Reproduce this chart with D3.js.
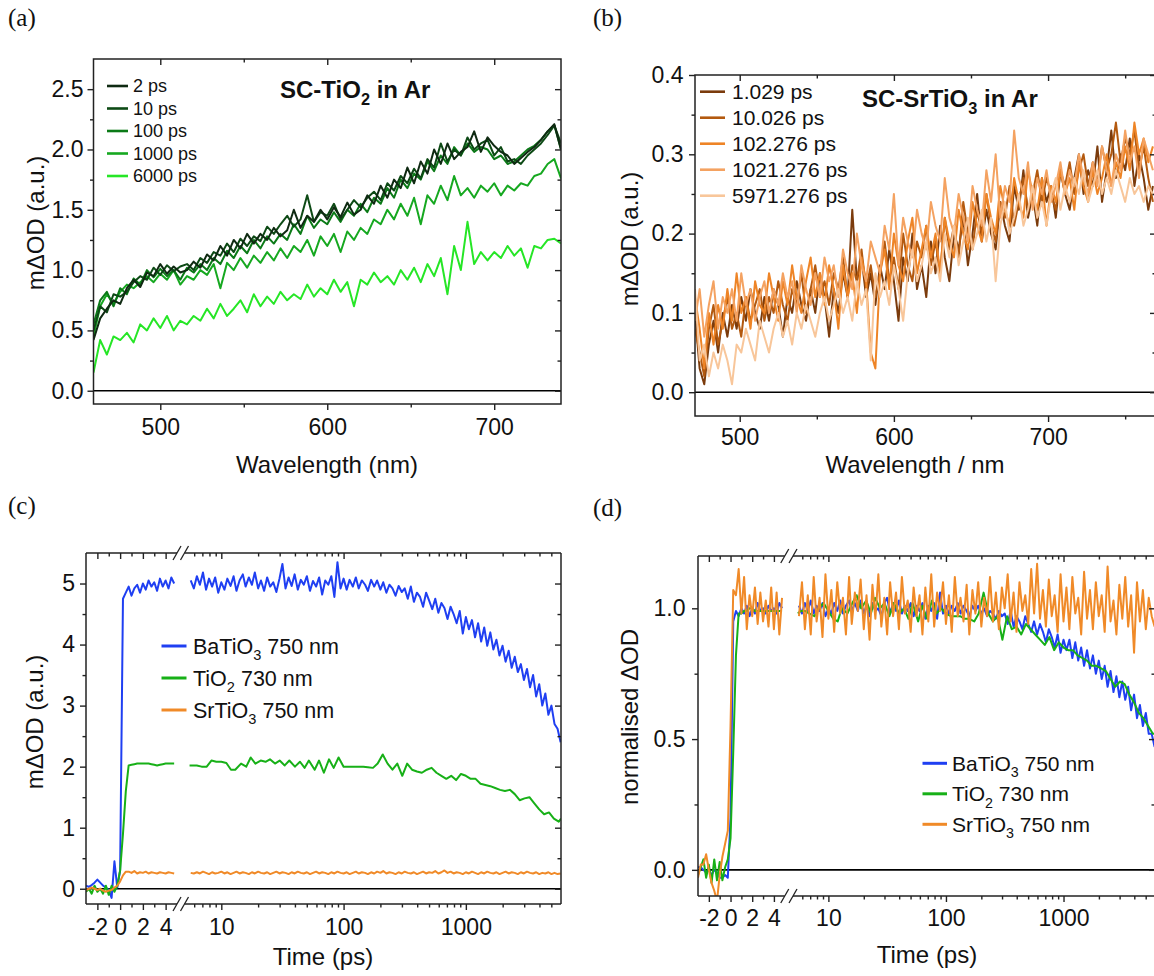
<!DOCTYPE html>
<html>
<head>
<meta charset="utf-8">
<script src="https://cdn.jsdelivr.net/npm/d3@7"></script>
<style>
  body { margin: 0; background: #fff; }
  svg { display: block; background: #fff; }
</style>
</head>
<body>
<svg id="chart" width="1154" height="976"></svg>
<script>
/* ---------- Panel (a): SC-TiO2 spectra, mΔOD vs wavelength ---------- */
const wavelengthsA = d3.range(460, 741, 4);
const labelsA = ['2 ps', '10 ps', '100 ps', '1000 ps', '6000 ps'];
const colorsA = ['#0f2a12', '#0d4a15', '#0b7a17', '#16a820', '#26e626'];
const tio2At2ps = [0.42,0.6,0.68,0.75,0.72,0.85,0.92,0.86,0.98,0.95,1.05,0.97,1.03,0.98,1.0,1.07,1.02,1.13,1.08,1.2,
  1.12,1.25,1.18,1.3,1.22,1.3,1.25,1.35,1.28,1.33,1.5,1.35,1.45,1.4,1.5,1.42,1.52,1.44,1.56,1.46,
  1.5,1.62,1.55,1.7,1.6,1.75,1.68,1.85,1.72,1.9,1.8,2.0,1.88,2.05,1.92,1.98,2.02,2.15,1.98,2.1,
  2.03,1.98,1.95,1.88,1.93,1.98,2.02,2.08,2.15,2.21,2.0];
const tio2At10ps = [0.5,0.7,0.65,0.8,0.78,0.82,0.9,0.95,0.92,1.02,0.96,1.04,0.99,1.03,1.05,1.0,1.1,1.06,1.15,1.12,
  1.22,1.15,1.26,1.2,1.28,1.24,1.36,1.3,1.38,1.45,1.36,1.42,1.62,1.4,1.48,1.45,1.55,1.42,1.5,1.58,
  1.52,1.6,1.65,1.58,1.72,1.66,1.78,1.72,1.84,1.76,1.92,1.85,2.05,1.9,2.0,1.95,2.1,2.0,2.05,2.08,
  1.95,2.02,1.9,1.92,1.88,1.95,2.0,2.05,2.12,2.2,2.05];
const tio2At100ps = [0.55,0.75,0.82,0.7,0.85,0.8,0.93,0.88,1.0,0.94,1.01,0.95,1.0,0.92,1.02,0.98,1.05,1.0,1.1,1.05,
  1.16,1.1,1.2,1.14,1.25,1.18,1.28,1.22,1.3,1.25,1.38,1.3,1.45,1.35,1.42,1.38,1.48,1.4,1.5,1.45,
  1.55,1.48,1.6,1.55,1.68,1.6,1.75,1.68,1.8,1.75,1.9,1.82,1.95,1.88,2.02,1.95,2.05,1.98,2.02,2.0,
  1.92,1.95,1.88,1.9,1.95,2.0,2.03,2.08,2.15,2.2,2.0];
const tio2At1000ps = [0.45,0.7,0.8,0.72,0.82,0.88,0.85,0.9,0.95,0.9,0.97,0.92,1.0,0.88,0.95,0.92,1.0,0.96,1.05,0.85,
  1.06,1.0,1.1,1.02,1.12,1.06,1.15,1.08,1.18,1.1,1.2,1.15,1.25,1.12,1.28,1.2,1.3,1.15,1.32,1.25,
  1.35,1.3,1.42,1.38,1.5,1.42,1.55,1.45,1.6,1.38,1.62,1.55,1.7,1.58,1.78,1.62,1.68,1.6,1.7,1.65,
  1.72,1.62,1.7,1.66,1.72,1.7,1.78,1.8,1.88,1.92,1.76];
const tio2At6000ps = [0.15,0.42,0.3,0.45,0.42,0.48,0.4,0.55,0.5,0.6,0.52,0.62,0.5,0.58,0.55,0.62,0.58,0.68,0.6,0.72,
  0.62,0.68,0.75,0.65,0.8,0.7,0.78,0.72,0.82,0.75,0.8,0.76,0.88,0.78,0.85,0.8,0.92,0.82,0.9,0.7,
  0.92,0.88,0.98,0.9,0.95,0.88,1.0,0.92,1.02,0.9,1.05,0.95,1.1,0.8,1.2,1.0,1.4,1.05,1.15,1.08,
  1.15,1.1,1.2,1.12,1.18,1.02,1.2,1.18,1.25,1.26,1.22];

/* ---------- Panel (b): SC-SrTiO3 spectra ---------- */
const wavelengthsB = d3.range(471, 769, 3);
const labelsB = ['1.029 ps', '10.026 ps', '102.276 ps', '1021.276 ps', '5971.276 ps'];
const colorsB = ['#7b3b0c', '#b3590f', '#ee8426', '#f4a261', '#f8c69a'];
const srAt1ps = [0.1,0.03,0.01,0.06,0.09,0.05,0.1,0.07,0.11,0.08,
  0.12,0.09,0.13,0.1,0.08,0.12,0.09,0.13,0.11,0.07,
  0.12,0.1,0.14,0.11,0.09,0.13,0.1,0.15,0.12,0.07,
  0.13,0.1,0.15,0.12,0.23,0.14,0.17,0.12,0.15,0.11,
  0.16,0.13,0.18,0.14,0.09,0.17,0.14,0.2,0.13,0.16,
  0.12,0.19,0.15,0.21,0.17,0.14,0.2,0.18,0.22,0.16,
  0.2,0.25,0.19,0.23,0.2,0.18,0.24,0.21,0.19,0.26,
  0.23,0.28,0.22,0.25,0.21,0.27,0.24,0.26,0.22,0.28,
  0.25,0.23,0.27,0.3,0.25,0.28,0.26,0.31,0.24,0.28,
  0.33,0.27,0.3,0.28,0.32,0.26,0.3,0.27,0.23,0.26];
const srAt10ps = [0.08,0.05,0.02,0.08,0.11,0.06,0.09,0.12,0.08,0.1,
  0.07,0.12,0.09,0.11,0.13,0.09,0.12,0.1,0.14,0.11,
  0.09,0.13,0.11,0.15,0.1,0.13,0.16,0.12,0.14,0.11,
  0.15,0.13,0.17,0.12,0.16,0.14,0.18,0.13,0.16,0.12,
  0.15,0.19,0.14,0.17,0.13,0.2,0.16,0.14,0.19,0.17,
  0.21,0.16,0.19,0.15,0.22,0.18,0.21,0.17,0.24,0.2,
  0.18,0.23,0.2,0.25,0.21,0.19,0.24,0.22,0.26,0.21,
  0.24,0.27,0.23,0.25,0.28,0.24,0.27,0.25,0.23,0.28,
  0.26,0.29,0.25,0.28,0.3,0.26,0.29,0.27,0.31,0.28,
  0.3,0.34,0.29,0.32,0.3,0.33,0.28,0.31,0.27,0.24];
const srAt100ps = [0.12,0.08,0.03,0.1,0.06,0.11,0.08,0.13,0.09,0.15,
  0.1,0.12,0.08,0.14,0.11,0.1,0.15,0.12,0.09,0.14,
  0.11,0.16,0.12,0.1,0.14,0.17,0.12,0.15,0.11,0.16,
  0.13,0.08,0.16,0.12,0.15,0.1,0.17,0.14,0.05,0.03,
  0.15,0.18,0.13,0.2,0.16,0.14,0.19,0.22,0.15,0.18,
  0.21,0.17,0.2,0.15,0.22,0.19,0.17,0.23,0.2,0.18,
  0.24,0.21,0.19,0.25,0.22,0.2,0.26,0.23,0.21,0.27,
  0.24,0.22,0.28,0.25,0.23,0.27,0.21,0.26,0.24,0.28,
  0.25,0.27,0.23,0.29,0.26,0.24,0.28,0.25,0.27,0.3,
  0.26,0.29,0.27,0.31,0.28,0.34,0.3,0.32,0.29,0.31];
const srAt1000ps = [0.09,0.13,0.07,0.11,0.14,0.08,0.12,0.1,0.13,0.09,
  0.15,0.11,0.13,0.09,0.12,0.14,0.1,0.13,0.11,0.15,
  0.12,0.14,0.1,0.16,0.13,0.11,0.15,0.12,0.17,0.14,
  0.16,0.12,0.18,0.15,0.13,0.2,0.16,0.14,0.19,0.17,
  0.15,0.21,0.18,0.25,0.16,0.22,0.19,0.17,0.23,0.2,
  0.18,0.24,0.21,0.19,0.27,0.22,0.2,0.25,0.22,0.19,
  0.26,0.23,0.21,0.28,0.24,0.3,0.22,0.26,0.24,0.33,
  0.27,0.25,0.29,0.23,0.27,0.25,0.28,0.24,0.26,0.29,
  0.25,0.28,0.26,0.3,0.27,0.25,0.29,0.26,0.31,0.28,
  0.26,0.3,0.28,0.33,0.29,0.31,0.27,0.32,0.3,0.28];
const srAt6000ps = [0.13,0.04,0.06,0.02,0.05,0.03,0.06,0.04,0.01,0.06,
  0.05,0.08,0.06,0.04,0.09,0.07,0.05,0.08,0.1,0.07,
  0.09,0.06,0.1,0.08,0.11,0.09,0.07,0.1,0.12,0.09,
  0.11,0.13,0.1,0.12,0.09,0.14,0.11,0.13,0.04,0.15,
  0.12,0.14,0.11,0.16,0.13,0.09,0.15,0.18,0.14,0.16,
  0.19,0.15,0.17,0.14,0.2,0.17,0.21,0.16,0.19,0.22,
  0.18,0.2,0.23,0.19,0.22,0.14,0.21,0.24,0.2,0.22,
  0.25,0.21,0.23,0.26,0.22,0.24,0.21,0.25,0.27,0.23,
  0.26,0.24,0.27,0.25,0.28,0.24,0.26,0.28,0.25,0.27,
  0.25,0.28,0.26,0.24,0.27,0.25,0.26,0.24,0.26,0.25];

/* ---------- Panels (c) and (d): kinetics on a broken time axis ---------- */
const timeLin = [-3,-2.75,-2.5,-2.25,-2,-1.75,-1.5,-1.25,-1,-0.75,-0.5,-0.25,0,0.25,0.5,0.75,
  1,1.25,1.5,1.75,2,2.25,2.5,2.75,3,3.25,3.5,3.75,4,4.25,4.5,4.75];
/* coarse log grid (TiO2 traces) */
const timeLog = [5.5,5.8,6.3,6.9,7.6,8.3,9.1,10,11,12,
  13,14.5,16,17.4,19,21,23,25,27.5,30,
  33,36,40,44,48,52,58,63,69,76,
  83,91,100,110,120,132,145,158,174,190,
  209,229,251,275,302,331,363,398,437,479,
  525,575,631,692,759,832,912,1000,1096,1202,
  1318,1445,1585,1738,1905,2089,2291,2512,2754,3020,
  3311,3631,3981,4365,4786,5248,5754,6000];
/* fine log grid (BaTiO3 and SrTiO3 traces) */
const timeLogFine = [5.62,5.96,6.31,6.68,7.08,7.5,7.94,8.41,8.91,9.44,
  10,10.6,11.2,11.9,12.6,13.3,14.1,15,15.8,16.8,
  17.8,18.8,20,21.1,22.4,23.7,25.1,26.6,28.2,29.9,
  31.6,33.5,35.5,37.6,39.8,42.2,44.7,47.3,50.1,53.1,
  56.2,59.6,63.1,66.8,70.8,75,79.4,84.1,89.1,94.4,
  100,106,112,119,126,133,141,150,158,168,
  178,188,200,211,224,237,251,266,282,299,
  316,335,355,376,398,422,447,473,501,531,
  562,596,631,668,708,750,794,841,891,944,
  1000,1059,1122,1189,1259,1334,1413,1496,1585,1679,
  1778,1884,1995,2113,2239,2371,2512,2661,2818,2985,
  3162,3350,3548,3758,3981,4217,4467,4732,5012,5309,
  5623,5957];
const kineticLabels = ['BaTiO_3 750 nm', 'TiO_2 730 nm', 'SrTiO_3 750 nm'];
const kineticColors = ['#1f3ff2', '#17b017', '#f08a28'];

const baTiO3Lin = [0.05,0.03,0.06,0.1,0.15,0.1,0.05,0.02,-0.02,-0.15,0.45,0.02,0.3,4.75,4.85,4.95,
  4.8,4.92,4.98,4.85,5.0,4.9,5.05,4.95,5.02,4.88,5.08,4.95,5.05,4.92,5.1,5.0];
const baTiO3Log = [5.05,4.92,5.12,4.98,5.18,4.9,5.08,4.95,5.1,4.85,
  5.02,4.9,5.08,4.96,5.12,4.88,5.05,5.15,4.95,5.1,
  4.98,5.18,4.92,5.05,4.88,5.1,4.95,5.02,4.86,5.08,
  5.32,4.92,5.1,4.96,5.15,4.9,5.06,4.98,5.12,4.88,
  5.04,4.95,5.1,4.82,5.05,4.98,5.12,4.78,5.35,4.92,
  5.08,4.9,5.06,4.95,5.1,4.92,5.05,4.98,4.88,5.06,
  4.95,5.05,4.9,5.02,4.85,4.98,4.92,4.8,4.96,4.86,
  4.92,4.75,4.95,4.7,4.85,4.78,4.62,4.85,4.72,4.58,
  4.75,4.52,4.68,4.6,4.42,4.62,4.5,4.35,4.55,4.18,
  4.45,4.25,4.4,4.12,4.35,4.05,4.28,3.98,4.2,3.92,
  4.08,3.82,3.98,3.72,3.9,3.62,3.8,3.55,3.68,3.42,
  3.6,3.3,3.5,3.15,3.35,3.0,3.2,2.85,3.0,2.7,
  2.62,2.4];
const tiO2Lin = [-0.05,0.0,-0.08,0.05,-0.05,0.0,-0.08,0.05,-0.1,0.05,-0.05,0.05,0.3,0.9,1.6,2.02,
  2.03,2.04,2.05,2.05,2.05,2.05,2.05,2.04,2.03,2.02,2.03,2.04,2.05,2.05,2.05,2.05];
const tiO2Log = [2.02,2.02,2.02,2.0,2.0,2.1,2.08,2.08,2.06,1.95,
  1.95,2.05,2.0,2.15,2.05,2.1,2.08,2.12,2.05,2.1,
  2.02,2.1,2.0,2.08,1.98,2.1,1.95,2.1,1.9,2.12,
  1.98,2.15,2.0,2.0,2.0,2.0,2.0,1.99,1.98,2.05,
  2.2,2.05,1.95,2.05,1.85,2.05,1.95,1.92,1.9,1.95,
  1.98,1.9,1.85,1.8,1.85,1.78,1.88,1.85,1.8,1.8,
  1.72,1.7,1.68,1.65,1.62,1.6,1.62,1.55,1.45,1.48,
  1.5,1.4,1.3,1.22,1.25,1.15,1.1,1.15];
const srTiO3Lin = [-0.02,0.0,0.02,0.0,-0.02,0.0,-0.03,-0.05,-0.03,-0.02,0.02,0.05,0.12,0.22,0.28,0.28,
  0.26,0.29,0.25,0.27,0.26,0.28,0.25,0.27,0.26,0.25,0.27,0.26,0.25,0.27,0.26,0.25];
const srTiO3Log = [0.26,0.25,0.27,0.25,0.28,0.26,0.24,0.27,0.25,0.26,
  0.28,0.25,0.27,0.24,0.26,0.28,0.25,0.27,0.26,0.24,
  0.27,0.25,0.28,0.26,0.25,0.27,0.24,0.26,0.28,0.25,
  0.27,0.26,0.24,0.27,0.25,0.28,0.26,0.25,0.27,0.24,
  0.26,0.28,0.25,0.27,0.26,0.24,0.27,0.25,0.28,0.26,
  0.25,0.27,0.24,0.26,0.28,0.25,0.27,0.26,0.24,0.27,
  0.25,0.28,0.26,0.29,0.25,0.27,0.26,0.24,0.27,0.25,
  0.28,0.26,0.25,0.27,0.24,0.26,0.28,0.25,0.27,0.26,
  0.29,0.25,0.27,0.3,0.26,0.28,0.25,0.27,0.26,0.24,
  0.27,0.25,0.28,0.26,0.24,0.27,0.25,0.28,0.26,0.25,
  0.27,0.24,0.26,0.28,0.25,0.27,0.26,0.24,0.27,0.25,
  0.28,0.26,0.25,0.27,0.24,0.26,0.25,0.27,0.24,0.26,
  0.24,0.25];

/* normalised traces, panel (d) */
const baTiO3NormLin = [0.01,0.01,0.0,-0.01,0.0,-0.02,0.0,-0.01,-0.03,-0.03,-0.02,-0.03,0.2,0.95,0.99,0.97,
  1.0,0.98,1.01,0.97,1.0,0.98,1.02,0.99,1.0,0.98,1.01,0.99,1.0,0.98,1.02,1.0];
const baTiO3NormLog = [1.01,0.98,1.02,0.99,1.03,0.98,1.01,0.99,1.02,0.97,
  1.0,0.98,1.02,0.99,1.03,0.98,1.01,1.03,0.99,1.02,
  0.99,1.03,0.98,1.01,0.97,1.02,0.99,1.0,0.97,1.02,
  1.04,0.98,1.02,0.99,1.03,0.98,1.01,0.99,1.02,0.97,
  1.01,0.99,1.02,0.96,1.01,0.99,1.02,0.96,1.06,0.98,
  1.01,0.98,1.01,0.99,1.02,0.98,1.01,0.99,0.97,1.01,
  0.99,1.01,0.98,1.0,0.97,0.99,0.98,0.96,0.99,0.97,
  0.98,0.94,0.99,0.93,0.97,0.95,0.92,0.97,0.94,0.91,
  0.95,0.9,0.94,0.91,0.87,0.92,0.89,0.85,0.9,0.83,
  0.88,0.84,0.88,0.81,0.87,0.8,0.85,0.78,0.84,0.77,
  0.82,0.75,0.8,0.73,0.78,0.7,0.76,0.68,0.74,0.66,
  0.72,0.65,0.7,0.61,0.67,0.58,0.63,0.55,0.6,0.52,
  0.52,0.47];
const tiO2NormLin = [-0.02,0.01,0.04,-0.03,0.02,-0.05,0.04,-0.04,0.03,-0.04,0.01,0.04,0.12,0.45,0.82,0.98,
  0.98,0.99,0.99,1.0,1.0,0.99,0.99,0.99,0.99,0.99,0.99,0.99,0.99,0.99,0.99,0.99];
const tiO2NormLog = [0.98,0.99,0.99,0.98,0.97,1.0,1.02,0.99,0.96,0.95,
  1.0,0.98,1.02,1.05,1.0,1.03,0.98,1.04,1.0,1.02,
  0.97,1.02,0.98,1.0,0.96,1.02,0.95,1.01,0.96,1.03,
  0.98,1.0,0.98,0.97,0.97,0.97,0.96,0.96,0.95,0.98,
  1.06,0.98,0.95,0.97,0.88,0.97,0.92,0.93,0.9,0.94,
  0.92,0.9,0.88,0.86,0.89,0.84,0.87,0.85,0.84,0.84,
  0.82,0.81,0.8,0.78,0.78,0.77,0.76,0.73,0.7,0.72,
  0.71,0.67,0.64,0.6,0.58,0.55,0.52,0.52];
const srTiO3NormLin = [-0.03,0.02,0.02,0.06,0.0,-0.05,-0.08,-0.12,-0.02,0.05,0.1,0.15,0.55,1.07,1.05,1.15,
  0.98,1.12,0.92,1.05,0.97,1.08,0.94,1.06,0.95,1.03,0.93,1.08,0.92,1.06,0.9,1.04];
const srTiO3NormLog = [0.97,1.1,0.92,1.05,0.9,1.12,0.95,1.04,0.89,1.13,
  0.96,1.07,0.91,1.1,0.98,1.04,0.9,1.12,0.94,1.06,
  0.99,1.11,0.92,1.05,0.88,1.09,0.96,1.13,0.93,1.04,
  0.9,1.1,0.97,1.06,0.92,1.12,0.98,1.03,0.91,1.08,
  0.97,1.05,0.9,1.08,0.95,1.13,0.93,1.06,0.99,1.1,
  0.94,1.05,0.91,1.12,0.97,1.04,0.95,1.09,0.9,1.07,
  0.98,1.1,0.93,1.04,0.97,1.12,0.95,1.06,0.92,1.08,
  1.0,1.13,0.95,1.06,0.91,1.1,0.99,1.05,0.94,1.15,
  0.98,1.17,0.96,1.07,0.93,1.11,0.97,1.05,0.91,1.13,
  0.95,1.08,0.92,1.12,0.98,1.04,0.9,1.14,0.96,1.07,
  0.92,1.1,0.97,1.05,0.91,1.16,0.95,1.03,0.9,1.09,
  0.96,1.12,0.93,1.05,0.83,1.1,0.95,1.07,0.92,1.04,
  0.97,0.93];

const logMinorTicks = [6, 7, 8, 9, 20, 30, 40, 50, 60, 70, 80, 90,
  200, 300, 400, 500, 600, 700, 800, 900, 2000, 3000, 4000, 5000];

/* ---------- Drawing helpers ---------- */
const FONT = '"Liberation Sans", Arial, Helvetica, sans-serif';
const SERIF = '"Liberation Serif", "DejaVu Serif", serif';
const INK = '#222';
const TICK = 6;
const MINOR = 3.5;
const svg = d3.select('#chart');

/** Append text where "_x" marks a one-character subscript. */
function appendRich(textSel, str, size) {
  const parts = str.split(/_(\d)/);
  parts.forEach((p, i) => {
    if (!p) return;
    const sub = i % 2 === 1;
    textSel.append('tspan')
        .attr('font-size', sub ? size * 0.68 : size)
        .attr('dy', sub ? size * 0.3 : (i > 0 ? -size * 0.3 : 0))
        .text(p);
  });
  return textSel;
}

function addText(g, x, y, str, opts = {}) {
  const size = opts.size || 22;
  const t = g.append('text')
      .attr('x', x)
      .attr('y', y)
      .attr('font-family', opts.family || FONT)
      .attr('font-size', size)
      .attr('font-weight', opts.weight || 'normal')
      .attr('text-anchor', opts.anchor || 'start')
      .attr('fill', '#111');
  if (opts.rotate) {
    t.attr('x', null).attr('y', null)
        .attr('transform', `translate(${x},${y}) rotate(-90)`);
  }
  return appendRich(t, str, size);
}

function addAxis(g, axis, tx, ty, size) {
  return g.append('g')
      .attr('transform', `translate(${tx},${ty})`)
      .call(axis)
      .call(s => {
        s.select('.domain').remove();
        s.selectAll('.tick line').attr('stroke', INK).attr('stroke-width', 1.4);
        s.selectAll('.tick text')
            .attr('fill', '#111')
            .attr('font-family', FONT)
            .attr('font-size', size || 23);
      });
}

/** Ticks on all four sides: outward bottom/left, inward top/right. */
function addTickSet(g, scale, orient, major, minor, fmt, w, h, pad) {
  const horiz = orient === 'x';
  const outer = horiz ? d3.axisBottom : d3.axisLeft;
  const inner = horiz ? d3.axisTop : d3.axisRight;
  const oy = horiz ? h : 0;
  const ix = horiz ? 0 : w;
  addAxis(g, outer(scale).tickValues(major).tickSize(TICK).tickPadding(pad).tickFormat(fmt), 0, oy);
  addAxis(g, outer(scale).tickValues(minor).tickSize(MINOR).tickFormat(''), 0, oy);
  addAxis(g, inner(scale).tickValues(major).tickSize(-TICK).tickFormat(''), ix, 0);
  addAxis(g, inner(scale).tickValues(minor).tickSize(-MINOR).tickFormat(''), ix, 0);
}

function addLegend(g, items, colors, cfg) {
  items.forEach((label, i) => {
    const y = cfg.y0 + i * cfg.dy;
    g.append('line')
        .attr('x1', cfg.x0).attr('x2', cfg.x1)
        .attr('y1', y).attr('y2', y)
        .attr('stroke', colors[i])
        .attr('stroke-width', cfg.lw || 2.6);
    addText(g, cfg.tx, y + cfg.size * 0.36, label, { size: cfg.size });
  });
}

function zeroLine(g, y, w) {
  g.append('line')
      .attr('x1', 0).attr('x2', w)
      .attr('y1', y(0)).attr('y2', y(0))
      .attr('stroke', '#000')
      .attr('stroke-width', 1.6);
}

/* ---------- Spectrum panel ---------- */
function spectrumPanel(cfg) {
  const { left, top, width, height } = cfg.box;
  const x = d3.scaleLinear().domain(cfg.xDomain).range([0, width]);
  const y = d3.scaleLinear().domain(cfg.yDomain).range([height, 0]);
  const g = svg.append('g').attr('transform', `translate(${left},${top})`);

  g.append('clipPath').attr('id', 'clip-' + cfg.id)
    .append('rect').attr('width', width).attr('height', height);

  zeroLine(g, y, width);

  const line = d3.line()
      .defined((d, i) => i < cfg.wavelengths.length)
      .x((d, i) => x(cfg.wavelengths[i]))
      .y(d => y(d));
  const dataG = g.append('g').attr('clip-path', `url(#clip-${cfg.id})`);
  cfg.order.forEach(k => {
    dataG.append('path')
        .attr('d', line(cfg.series[k]))
        .attr('fill', 'none')
        .attr('stroke', cfg.colors[k])
        .attr('stroke-width', 2)
        .attr('stroke-linejoin', 'round');
  });

  g.append('rect')
      .attr('width', width).attr('height', height)
      .attr('fill', 'none').attr('stroke', INK).attr('stroke-width', 1.5);

  addTickSet(g, x, 'x', cfg.xMajor, cfg.xMinor, d3.format('d'), width, height, cfg.xPad);
  addTickSet(g, y, 'y', cfg.yMajor, cfg.yMinor, d3.format('.1f'), width, height, cfg.yPad);
  return g;
}

/* ---------- Kinetic panel with axis break ---------- */
function kineticPanel(cfg) {
  const { left, top, width, height, breakL, breakR } = cfg.box;
  const xLin = d3.scaleLinear().domain([-3, 5]).range([0, breakL]);
  const xLog = d3.scaleLog().domain([5, 6000]).range([breakR, width]);
  const y = d3.scaleLinear().domain(cfg.yDomain).range([height, 0]);
  const g = svg.append('g').attr('transform', `translate(${left},${top})`);

  g.append('clipPath').attr('id', 'clip-' + cfg.id)
    .append('rect').attr('width', width).attr('height', height);

  zeroLine(g, y, width);

  const dataG = g.append('g').attr('clip-path', `url(#clip-${cfg.id})`);
  cfg.series.forEach((s, k) => {
    const lineLin = d3.line()
        .defined((d, i) => i < timeLin.length)
        .x((d, i) => xLin(timeLin[i])).y(d => y(d));
    const lineLog = d3.line()
        .defined((d, i) => i < s.logTimes.length)
        .x((d, i) => xLog(s.logTimes[i])).y(d => y(d));
    [lineLin(s.lin), lineLog(s.log)].forEach(d => {
      dataG.append('path')
          .attr('d', d)
          .attr('fill', 'none')
          .attr('stroke', kineticColors[k])
          .attr('stroke-width', 2)
          .attr('stroke-linejoin', 'round');
    });
  });

  /* Frame with gaps at the break */
  const frame = [[0, 0, 0, height], [width, 0, width, height],
    [0, 0, breakL, 0], [breakR, 0, width, 0],
    [0, height, breakL, height], [breakR, height, width, height]];
  frame.forEach(f => {
    g.append('line')
        .attr('x1', f[0]).attr('y1', f[1]).attr('x2', f[2]).attr('y2', f[3])
        .attr('stroke', INK).attr('stroke-width', 1.5);
  });
  [0, height].forEach(yy => {
    [breakL, breakR].forEach(xx => {
      g.append('line')
          .attr('x1', xx - 4).attr('y1', yy + 7)
          .attr('x2', xx + 4).attr('y2', yy - 7)
          .attr('stroke', INK).attr('stroke-width', 1.3);
    });
  });

  const intFmt = d => String(d);
  addTickSet(g, xLin, 'x', [-2, 0, 2, 4], [-1, 1, 3], intFmt, width, height, cfg.xPad);
  addTickSet(g, xLog, 'x', [10, 100, 1000], logMinorTicks, intFmt, width, height, cfg.xPad);
  addTickSet(g, y, 'y', cfg.yMajor, cfg.yMinor, cfg.yFormat, width, height, cfg.yPad);
  return g;
}

/* ---------- Panel (a) ---------- */
spectrumPanel({
  id: 'a',
  box: { left: 93.5, top: 59, width: 467.5, height: 345 },
  xDomain: [460, 740], yDomain: [-0.11, 2.75],
  wavelengths: wavelengthsA,
  series: [tio2At2ps, tio2At10ps, tio2At100ps, tio2At1000ps, tio2At6000ps],
  colors: colorsA,
  order: [4, 3, 2, 1, 0],
  xMajor: [500, 600, 700], xMinor: [550, 650],
  yMajor: [0, 0.5, 1, 1.5, 2, 2.5], yMinor: [0.25, 0.75, 1.25, 1.75, 2.25],
  xPad: 9, yPad: 4
});
addLegend(svg, labelsA, colorsA, { x0: 107, x1: 128, tx: 133, y0: 86, dy: 22.5, size: 18, lw: 2.6 });
addText(svg, 280, 98, 'SC-TiO_2 in Ar', { size: 24, weight: 'bold' });
addText(svg, 327, 473, 'Wavelength (nm)', { size: 24, anchor: 'middle' });
addText(svg, 44, 223, 'mΔOD (a.u.)', { size: 24, anchor: 'middle', rotate: true });

/* ---------- Panel (b) ---------- */
spectrumPanel({
  id: 'b',
  box: { left: 695, top: 75, width: 461, height: 341 },
  xDomain: [471, 770], yDomain: [-0.03, 0.4],
  wavelengths: wavelengthsB,
  series: [srAt1ps, srAt10ps, srAt100ps, srAt1000ps, srAt6000ps],
  colors: colorsB,
  order: [0, 1, 2, 3, 4],
  xMajor: [500, 600, 700], xMinor: [550, 650, 750],
  yMajor: [0, 0.1, 0.2, 0.3, 0.4], yMinor: [0.05, 0.15, 0.25, 0.35],
  xPad: 7, yPad: 5.5
});
addLegend(svg, labelsB, colorsB, { x0: 700, x1: 725, tx: 732, y0: 91.7, dy: 26, size: 21, lw: 2.6 });
addText(svg, 862, 107, 'SC-SrTiO_3 in Ar', { size: 24, weight: 'bold' });
addText(svg, 915, 473, 'Wavelength / nm', { size: 24, anchor: 'middle' });
addText(svg, 638, 239, 'mΔOD (a.u.)', { size: 24, anchor: 'middle', rotate: true });

/* ---------- Panel (c) ---------- */
kineticPanel({
  id: 'c',
  box: { left: 86, top: 553, width: 475, height: 351, breakL: 91, breakR: 98.5 },
  yDomain: [-0.25, 5.5],
  series: [
    { lin: baTiO3Lin, logTimes: timeLogFine, log: baTiO3Log },
    { lin: tiO2Lin, logTimes: timeLog, log: tiO2Log },
    { lin: srTiO3Lin, logTimes: timeLogFine, log: srTiO3Log }
  ],
  yMajor: [0, 1, 2, 3, 4, 5], yMinor: [0.5, 1.5, 2.5, 3.5, 4.5],
  yFormat: d3.format('d'),
  xPad: 9, yPad: 5
});
addLegend(svg, kineticLabels, kineticColors, { x0: 161.5, x1: 186.5, tx: 193, y0: 646, dy: 32, size: 21.5, lw: 3 });
addText(svg, 323, 965, 'Time (ps)', { size: 24, anchor: 'middle' });
addText(svg, 43, 722, 'mΔOD (a.u.)', { size: 24, anchor: 'middle', rotate: true });

/* ---------- Panel (d) ---------- */
kineticPanel({
  id: 'd',
  box: { left: 698, top: 556, width: 457, height: 340, breakL: 86.75, breakR: 95 },
  yDomain: [-0.1, 1.2],
  series: [
    { lin: baTiO3NormLin, logTimes: timeLogFine, log: baTiO3NormLog },
    { lin: tiO2NormLin, logTimes: timeLog, log: tiO2NormLog },
    { lin: srTiO3NormLin, logTimes: timeLogFine, log: srTiO3NormLog }
  ],
  yMajor: [0, 0.5, 1], yMinor: [0.25, 0.75],
  yFormat: d3.format('.1f'),
  xPad: 7.5, yPad: 6.5
});
addLegend(svg, kineticLabels, kineticColors, { x0: 922.5, x1: 947, tx: 952, y0: 763.3, dy: 30.5, size: 21, lw: 3 });
addText(svg, 927, 963, 'Time (ps)', { size: 24, anchor: 'middle' });
addText(svg, 638, 717, 'normalised ΔOD', { size: 24, anchor: 'middle', rotate: true });

/* ---------- Panel letters ---------- */
[['(a)', 8, 26], ['(b)', 593, 26], ['(c)', 8, 514], ['(d)', 593, 516]].forEach(p => {
  addText(svg, p[1], p[2], p[0], { size: 25, family: SERIF });
});
</script>
</body>
</html>
